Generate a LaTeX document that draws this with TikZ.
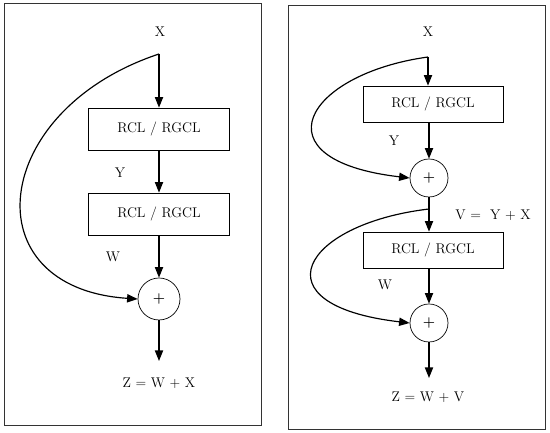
\documentclass[tikz,border=0pt]{standalone}
\usetikzlibrary{positioning,arrows.meta}
\begin{document}
\begin{tikzpicture}[x=0.03cm, y=-0.03cm, every node/.style={font=\large}]
  \tikzset{
    block/.style={draw, line width=0.6pt, minimum width=4.23cm, minimum height=1.26cm},
    sum/.style={draw, circle, line width=0.6pt, minimum size=1.26cm, inner sep=0pt},
    flow/.style={-{Triangle[length=9pt,width=7pt]}, line width=1pt},
    frame/.style={draw=black!80, line width=0.7pt}
  }
  \useasboundingbox (0,0) rectangle (550,433);

  % Left figure: two blocks, one skip connection
  \begin{scope}
    \draw[frame] (4,3) rectangle (261,425);
    \node (xA) at (160,32) {X};
    \coordinate (splitA) at (159,54);
    \node[block] (rclA) at (159,129) {RCL / RGCL};
    \node[block] (rclB) at (159,214) {RCL / RGCL};
    \node[sum] (sumA) at (159,299) {\textbf{+}};
    \coordinate (endA) at (159,361);
    \node (zA) at (159,383) {Z = W + X};
    \node (yA) at (120,173) {Y};
    \node (wA) at (113,257) {W};

    \draw[flow] (splitA) -- (rclA.north);
    \draw[flow] (rclA.south) -- (rclB.north);
    \draw[flow] (rclB.south) -- (sumA.north);
    \draw[flow] (sumA.south) -- (endA);
    \draw[flow] (splitA) .. controls (-10,110) and (-30,288) .. (sumA.west);
  \end{scope}

  % Right figure: block, sum, block, sum
  \begin{scope}
    \draw[frame] (288,5) rectangle (545,429);
    \node (xB) at (428,32) {X};
    \coordinate (splitB) at (428,57);
    \node[block, minimum width=4.2cm, minimum height=1.08cm] (rclC) at (433,104) {RCL / RGCL};
    \node[sum, minimum size=1.14cm] (sumB) at (429,178) {\textbf{+}};
    \coordinate (splitC) at (429,209);
    \node[block, minimum width=4.2cm, minimum height=1.08cm] (rclD) at (433,250) {RCL / RGCL};
    \node[sum, minimum size=1.14cm] (sumC) at (429,323) {\textbf{+}};
    \coordinate (endB) at (429,378);
    \node (zB) at (428,397) {Z = W + V};
    \node (yB) at (394,141) {Y};
    \node (vB) at (493,215) {V = \ Y + X};
    \node (wB) at (385,285) {W};

    \draw[flow] (splitB) -- (splitB |- rclC.north);
    \draw[flow] (sumB |- rclC.south) -- (sumB.north);
    \draw[flow] (sumB.south) -- (sumB |- rclD.north);
    \draw[flow] (sumC |- rclD.south) -- (sumC.north);
    \draw[flow] (sumC.south) -- (endB);
    \draw[flow] (splitB) .. controls (305,74) and (255,160) .. (sumB.west);
    \draw[flow] (splitC) .. controls (302,224) and (255,305) .. (sumC.west);
  \end{scope}
\end{tikzpicture}
\end{document}
